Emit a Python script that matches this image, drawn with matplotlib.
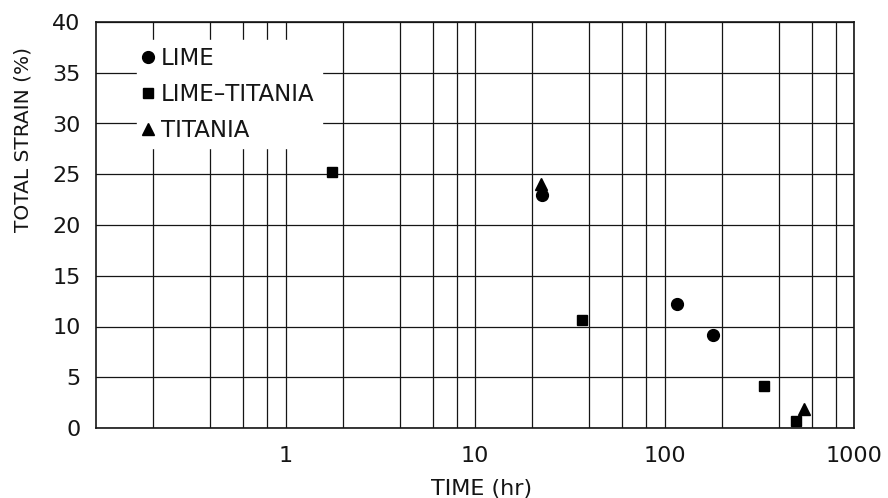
import matplotlib
matplotlib.use("Agg")
import matplotlib.pyplot as plt
from matplotlib.ticker import LogLocator, FixedLocator, NullFormatter, FixedFormatter
from matplotlib.lines import Line2D

plt.rcParams['font.family'] = ['DejaVu Sans']

# Data (time in hr, total strain in %)
lime_time = [22.5, 116, 180]
lime_strain = [23.0, 12.2, 9.2]
lt_time = [1.75, 36.5, 335, 495]
lt_strain = [25.2, 10.6, 4.1, 0.7]
ti_time = [22.3, 545]
ti_strain = [24.0, 1.9]

x_ticks = [1, 10, 100, 1000]
x_ticklabels = ['1', '10', '100', '1000']
y_ticks = [0, 5, 10, 15, 20, 25, 30, 35, 40]

fig = plt.figure(figsize=(8.88, 4.98), dpi=100)
ax = fig.add_axes([96/888, 1-428/498, (854-96)/888, (428-22)/498])

ax.set_xscale('log')
ax.set_xlim(0.1, 1000)
ax.set_ylim(0, 40)

ax.xaxis.set_major_locator(FixedLocator(x_ticks))
ax.xaxis.set_major_formatter(FixedFormatter(x_ticklabels))
ax.xaxis.set_minor_locator(LogLocator(base=10, subs=(2, 4, 6, 8)))
ax.xaxis.set_minor_formatter(NullFormatter())
ax.set_yticks(y_ticks)
ax.set_yticklabels([str(v) for v in y_ticks])

ax.grid(True, which='both', axis='x', color='#151515', linewidth=0.9)
ax.grid(True, which='major', axis='y', color='#151515', linewidth=0.9)
ax.tick_params(which='both', length=0)
ax.tick_params(axis='x', pad=13, labelsize=16, colors='#151515')
ax.tick_params(axis='y', pad=11, labelsize=16, colors='#151515')
for s in ax.spines.values():
    s.set_linewidth(1.2)
    s.set_color('#151515')

ms = 7.5
ax.plot(lime_time, lime_strain, 'o', color='black', markersize=ms + 1, zorder=5, clip_on=False)
ax.plot(lt_time, lt_strain, 's', color='black', markersize=ms, zorder=5, clip_on=False)
ax.plot(ti_time, ti_strain, '^', color='black', markersize=ms + 1, zorder=6, clip_on=False)

handles = [
    Line2D([], [], marker='o', color='black', linestyle='none', markersize=ms + 1),
    Line2D([], [], marker='s', color='black', linestyle='none', markersize=ms - 1),
    Line2D([], [], marker='^', color='black', linestyle='none', markersize=ms + 1),
]
leg = ax.legend(handles, ['LIME', 'LIME\u2013TITANIA', 'TITANIA'],
                loc='upper left', bbox_to_anchor=((137-96)/758, (428-40)/406),
                frameon=True, fancybox=False, framealpha=1, edgecolor='white',
                facecolor='white', fontsize=16.5, handlelength=0.4,
                handletextpad=0.35, labelspacing=0.56, borderpad=0.3,
                borderaxespad=0)
for t in leg.get_texts():
    t.set_color('#151515')

ax.set_xlabel('TIME (hr)', fontsize=16, color='#151515')
ax.xaxis.set_label_coords((482-96)/758, (428-479)/406)
ax.set_ylabel('TOTAL STRAIN (%)', fontsize=14.5, color='#151515')
ax.yaxis.set_label_coords((33-96)/758, (428-140)/406)

fig.savefig('out.png', dpi=100)
